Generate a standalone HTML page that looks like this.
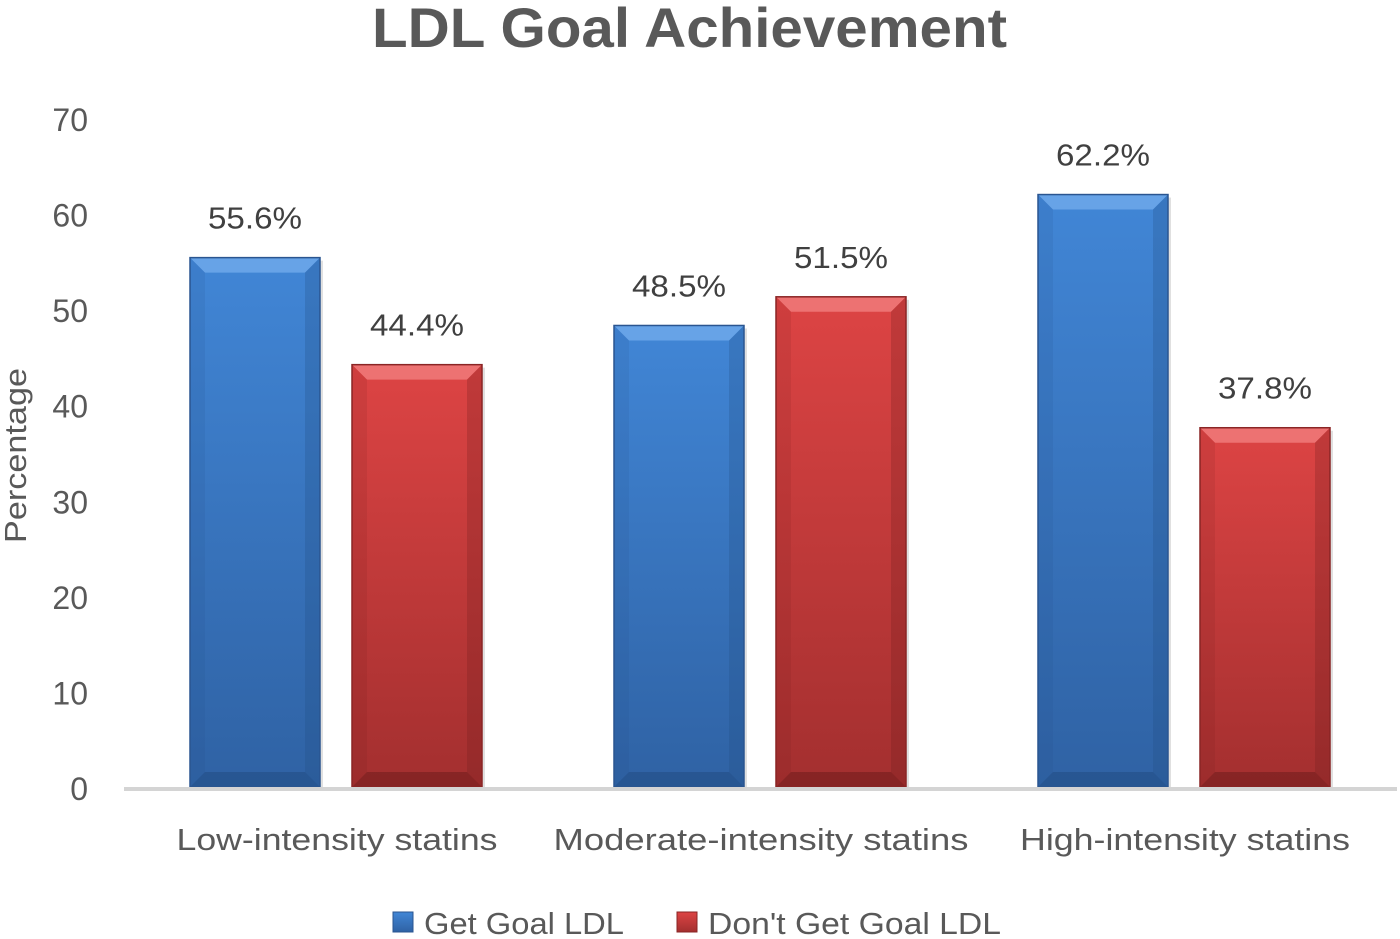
<!DOCTYPE html>
<html><head><meta charset="utf-8"><style>
body{margin:0;background:#fff;}
svg{display:block;font-family:"Liberation Sans","DejaVu Sans",sans-serif;}
</style></head><body>
<svg id="chart" width="1400" height="939" viewBox="0 0 1400 939">
<defs>
<linearGradient id="gb" x1="0" y1="0" x2="0" y2="1"><stop offset="0" stop-color="#4186d6"/><stop offset="1" stop-color="#2f62a4"/></linearGradient>
<linearGradient id="gr" x1="0" y1="0" x2="0" y2="1"><stop offset="0" stop-color="#dd4444"/><stop offset="1" stop-color="#a32f2f"/></linearGradient>
</defs>
<text x="372" y="47" textLength="635" lengthAdjust="spacingAndGlyphs" font-size="56" font-weight="bold" fill="#595959">LDL Goal Achievement</text>
<text transform="translate(26,543) rotate(-90)" textLength="175" lengthAdjust="spacingAndGlyphs" font-size="31" fill="#595959">Percentage</text>
<g id="yticks"></g>
<g id="bars"></g>
<line x1="124" y1="789" x2="1397" y2="789" stroke="#d4d4d4" stroke-width="4"/>
<g id="xlabels"></g>
<g>
<rect x="393" y="912" width="20" height="20" fill="url(#gb)" stroke="#2a5590"/>
<text x="424" y="934" textLength="200" lengthAdjust="spacingAndGlyphs" font-size="31" fill="#595959">Get Goal LDL</text>
<rect x="677" y="912" width="20" height="20" fill="url(#gr)" stroke="#8a2525"/>
<text x="708" y="934" textLength="293" lengthAdjust="spacingAndGlyphs" font-size="31" fill="#595959">Don't Get Goal LDL</text>
</g>
</svg>
<script>
const categories=["Low-intensity statins","Moderate-intensity statins","High-intensity statins"];
const getGoal=[55.6,48.5,62.2];
const dontGetGoal=[44.4,51.5,37.8];
const yTicks=[0,10,20,30,40,50,60,70];
const NS="http://www.w3.org/2000/svg";
const labelWidths=[321,415,330];
const y0=789,yPer=(789-120)/70;
function yS(v){return y0-v*yPer;}
const x0=125,catW=424;
function xC(i){return x0+catW*i+212;}
function mk(t,a,p){const e=document.createElementNS(NS,t);for(const k in a)e.setAttribute(k,a[k]);p.appendChild(e);return e;}
const yt=document.getElementById('yticks');
yTicks.forEach(v=>{const t=mk('text',{x:88,y:yS(v)+11,'text-anchor':'end','font-size':32,fill:'#595959'},yt);t.textContent=v;

});
const bg=document.getElementById('bars');
function bar(v,x,fill,light,dark,edge,name){
 const w=130,top=yS(v),h=y0-2-top,b=15;
 const g=mk('g',{},bg);
 
 
 mk('rect',{x:x+3,y:top+3,width:w,height:h,fill:'#000',opacity:0.12},g);
 mk('rect',{x:x,y:top,width:w,height:h,fill:fill},g);
 mk('polygon',{points:`${x},${top} ${x+w},${top} ${x+w-b},${top+b} ${x+b},${top+b}`,fill:light,opacity:0.85},g);
 mk('polygon',{points:`${x},${top+h} ${x+w},${top+h} ${x+w-b},${top+h-b} ${x+b},${top+h-b}`,fill:dark,opacity:0.5},g);
 mk('polygon',{points:`${x},${top} ${x+b},${top+b} ${x+b},${top+h-b} ${x},${top+h}`,fill:dark,opacity:0.12},g);
 mk('polygon',{points:`${x+w},${top} ${x+w-b},${top+b} ${x+w-b},${top+h-b} ${x+w},${top+h}`,fill:dark,opacity:0.25},g);
 mk('rect',{x:x,y:top,width:w,height:h,fill:'none',stroke:edge,'stroke-width':1.5},g);
 const t=mk('text',{x:x+w/2-47,y:top-29,textLength:94,lengthAdjust:'spacingAndGlyphs','font-size':31,fill:'#404040'},bg);
 t.textContent=v.toFixed(1)+'%';
 
 
}
const xl=document.getElementById('xlabels');
categories.forEach((c,i)=>{
 bar(getGoal[i],xC(i)-147,'url(#gb)','#6fa8ea','#1f4a80','#2a5590','bar-get-goal-'+i);
 bar(dontGetGoal[i],xC(i)+15,'url(#gr)','#f07a7a','#6a1a1a','#8a2525','bar-dont-get-goal-'+i);
 const len=labelWidths[i]||c.length*15.3;
 const t=mk('text',{x:xC(i)-len/2,y:850,textLength:len,lengthAdjust:'spacingAndGlyphs','font-size':31,fill:'#595959'},xl);
 t.textContent=c;
 
 
});
</script>
</body></html>
